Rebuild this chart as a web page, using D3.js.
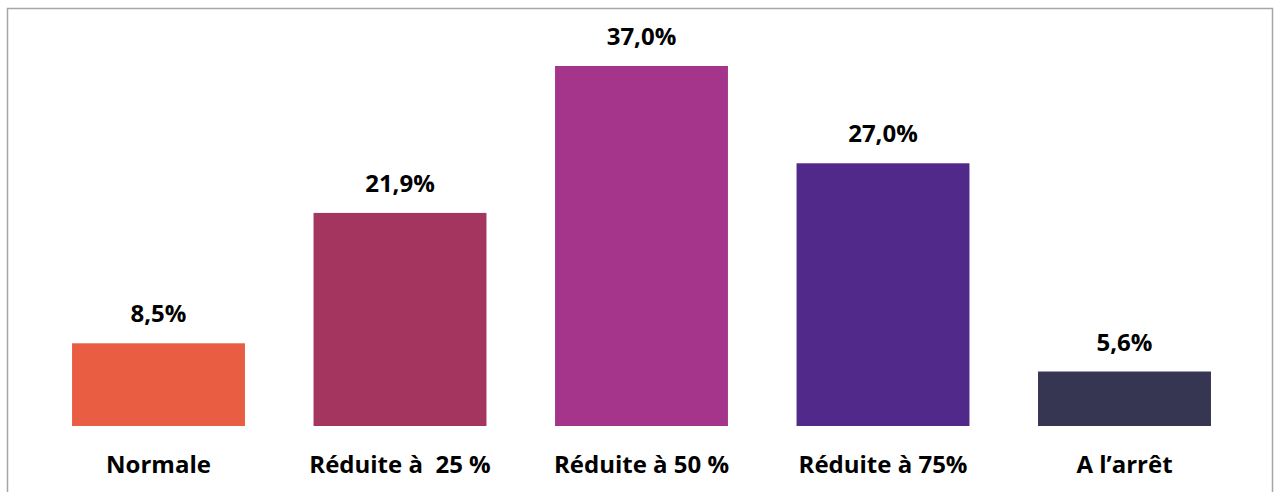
<!DOCTYPE html>
<html>
<head>
<meta charset="utf-8">
<script src="https://cdn.jsdelivr.net/npm/d3@7"></script>
<style>
  html, body { margin: 0; padding: 0; background: #fff; }
  svg { display: block; }
  text { font-family: "Open Sans", Lato, sans-serif; font-weight: 700; fill: #000; }
</style>
</head>
<body>
<svg id="chart" width="1276" height="492"></svg>
<script>
// Répartition de l'activité
const categories = ["Normale", "Réduite à  25 %", "Réduite à 50 %", "Réduite à 75%", "A l\u2019arrêt"];
const values = [8.5, 21.9, 37.0, 27.0, 5.6];
const valueLabels = ["8,5%", "21,9%", "37,0%", "27,0%", "5,6%"];
const colors = ["#E95E43", "#A3355E", "#A5358B", "#50298A", "#363552"];

const svg = d3.select("#chart");

// outer frame (bottom edge falls outside the view)
svg.append("rect")
  .attr("x", 7.5).attr("y", 8.5)
  .attr("width", 1265).attr("height", 500)
  .attr("fill", "none")
  .attr("stroke", "#a6a6a6")
  .attr("stroke-width", 1.5);

const x = d3.scaleBand()
  .domain(categories)
  .range([37.75, 1245.25])
  .paddingInner(0.284)
  .paddingOuter(0.142);

const y = d3.scaleLinear()
  .domain([0, 37])
  .range([426, 66]);

const g = svg.append("g");

g.selectAll("rect.bar")
  .data(values)
  .join("rect")
  .attr("class", "bar")
  .attr("x", (d, i) => x(categories[i]))
  .attr("width", x.bandwidth())
  .attr("y", d => y(d))
  .attr("height", d => y(0) - y(d))
  .attr("fill", (d, i) => colors[i]);

g.selectAll("text.val")
  .data(values)
  .join("text")
  .attr("class", "val")
  .attr("x", (d, i) => x(categories[i]) + x.bandwidth() / 2)
  .attr("y", d => y(d) - 21)
  .attr("text-anchor", "middle")
  .attr("font-size", 24)
  .text((d, i) => valueLabels[i]);

const xAxis = d3.axisBottom(x).tickSize(0).tickPadding(0);
const ax = svg.append("g")
  .attr("transform", "translate(0,426)")
  .call(xAxis);
ax.select(".domain").remove();
ax.selectAll("text")
  .attr("y", 47)
  .attr("dy", 0)
  .attr("font-size", 24)
  .style("font-family", "'Open Sans', Lato, sans-serif")
  .style("font-weight", 700)
  .attr("fill", "#000")
  .style("white-space", "pre");
</script>
</body>
</html>
